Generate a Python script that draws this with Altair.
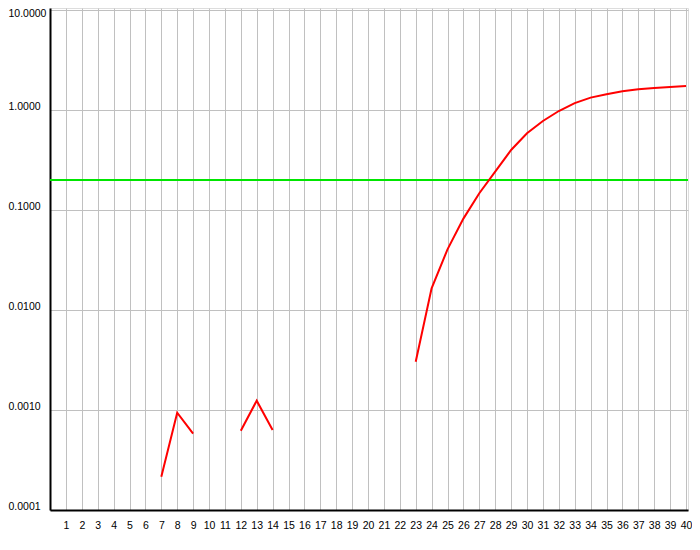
import altair as alt
import pandas as pd

# Cycle numbers and fluorescence (delta Rn) values, three separate segments
seg_a_x = [7, 8, 9]
seg_a_y = [0.000215, 0.00094, 0.00058]
seg_b_x = [12, 13, 14]
seg_b_y = [0.00062, 0.00124, 0.00063]
seg_c_x = list(range(23, 41))
seg_c_y = [0.00304, 0.0165, 0.0404, 0.082, 0.147, 0.242, 0.398, 0.585, 0.776,
           0.977, 1.17, 1.33, 1.44, 1.54, 1.61, 1.66, 1.70, 1.74]

threshold = 0.2
x_ticks = list(range(1, 41))
y_ticks = [10, 1, 0.1, 0.01, 0.001, 0.0001]

rows = []
for name, xs, ys in [("a", seg_a_x, seg_a_y), ("b", seg_b_x, seg_b_y), ("c", seg_c_x, seg_c_y)]:
    for x, y in zip(xs, ys):
        rows.append({"cycle": x, "value": y, "seg": name})
df = pd.DataFrame(rows)

FONT = "Liberation Sans"

x_enc = alt.X(
    "cycle:Q",
    scale=alt.Scale(domain=[0, 40.125], nice=False, zero=False),
    axis=alt.Axis(
        values=x_ticks, title=None, grid=True, gridColor="#c0c0c0", gridWidth=1,
        ticks=False, tickSize=0, domainColor="#000000", domainWidth=2,
        labelFont=FONT, labelFontSize=10.5, labelColor="#000000",
        labelPadding=10, labelAngle=0, labelFlush=False, labelOverlap=False,
        format="d",
    ),
)
y_enc = alt.Y(
    "value:Q",
    scale=alt.Scale(type="log", domain=[0.0001, 10 ** 1.02], nice=False),
    axis=alt.Axis(
        values=y_ticks, title=None, grid=True, gridColor="#c0c0c0", gridWidth=1,
        ticks=False, tickSize=0, domainColor="#000000", domainWidth=2,
        labelFont=FONT, labelFontSize=10.5, labelColor="#000000",
        format=".4f", labelAlign="left", labelPadding=42,
        labelBaseline={"condition": {"test": "datum.value > 5", "value": "top"}, "value": "alphabetic"},
        labelOffset={"condition": {"test": "datum.value > 5", "value": -2}, "value": -1},
        labelFlush=False, labelOverlap=False,
    ),
)

lines = alt.Chart(df).mark_line(color="#ff0000", strokeWidth=2).encode(
    x=x_enc, y=y_enc, detail="seg:N"
)

thr = alt.Chart(pd.DataFrame({"t": [threshold]})).mark_rule(
    color="#00e600", strokeWidth=2
).encode(y=alt.Y("t:Q"))

chart = alt.layer(thr, lines).properties(
    width=638, height=502,
    autosize=alt.AutoSizeParams(type="none"),
    padding={"left": 42, "top": 0, "right": 4, "bottom": 30},
).configure_view(stroke=None).configure(background="#ffffff")

chart.save("out.html", embed_options={"renderer": "svg", "actions": False})
